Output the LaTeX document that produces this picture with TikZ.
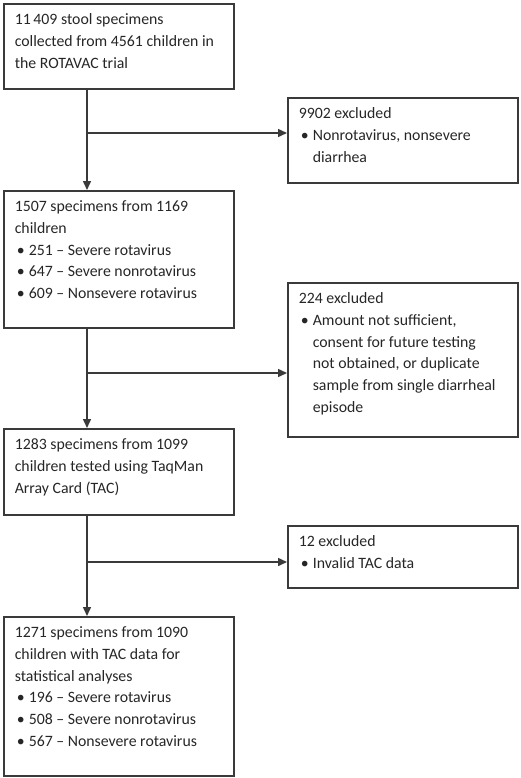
\documentclass[tikz,border=0pt]{standalone}
\usepackage{fontspec}
\setmainfont{Carlito}
\usetikzlibrary{arrows.meta}
\definecolor{linegray}{HTML}{3A3A3A}
\definecolor{textgray}{HTML}{262626}
\newlength{\bulind}\setlength{\bulind}{14pt}
\newcommand{\bul}{\par\hangindent=\bulind\hangafter=1\noindent\makebox[\bulind][l]{\hspace{2pt}\textbullet}}
\newcommand{\boxtext}[2]{\parbox[t][#1][t]{208pt}{\raggedright #2}}

\begin{document}
\begin{tikzpicture}[
    x=1pt, y=-1pt,
    box/.style={draw=linegray, line width=1.6pt, anchor=north west, inner xsep=11pt, inner ysep=10pt,
        text=textgray, font=\fontsize{15.8pt}{21.7pt}\selectfont},
    arr/.style={draw=linegray, line width=1.5pt, -{Triangle[length=9pt,width=8pt]}}
]
\useasboundingbox (0,0) rectangle (520,778);
% main flow
\node[box] (total) at (3,3) {\boxtext{65pt}{11\,409 stool specimens\newline
    collected from 4561 children in\newline the ROTAVAC trial}};
\node[box] (selected) at (3,190) {\boxtext{117pt}{1507 specimens from 1169\newline children
    \bul 251 – Severe rotavirus
    \bul 647 – Severe nonrotavirus
    \bul 609 – Nonsevere rotavirus}};
\node[box] (tested) at (3,428) {\boxtext{66pt}{1283 specimens from 1099\newline
    children tested using TaqMan\newline Array Card (TAC)}};
\node[box] (analysed) at (3,616) {\boxtext{139pt}{1271 specimens from 1090\newline
    children with TAC data for\newline statistical analyses
    \bul 196 – Severe rotavirus
    \bul 508 – Severe nonrotavirus
    \bul 567 – Nonsevere rotavirus}};
% exclusions
\node[box] (excl1) at (287,97) {\boxtext{65pt}{9902 excluded
    \bul Nonrotavirus, nonsevere\newline diarrhea}};
\node[box] (excl2) at (287,282) {\boxtext{134pt}{224 excluded
    \bul Amount not sufficient,\newline consent for future testing\newline
    not obtained, or duplicate\newline sample from single diarrheal\newline episode}};
\node[box] (excl3) at (287,525) {\boxtext{42pt}{12 excluded
    \bul Invalid TAC data}};
% arrows
\coordinate (spine) at (87,0);
\coordinate (j1) at (87,133);
\coordinate (j2) at (87,373);
\coordinate (j3) at (87,562);
\draw[arr] (total.south -| spine) -- (selected.north -| spine);
\draw[arr] (selected.south -| spine) -- (tested.north -| spine);
\draw[arr] (tested.south -| spine) -- (analysed.north -| spine);
\draw[arr] (j1) -- (j1 -| excl1.west);
\draw[arr] (j2) -- (j2 -| excl2.west);
\draw[arr] (j3) -- (j3 -| excl3.west);
\end{tikzpicture}
\end{document}
